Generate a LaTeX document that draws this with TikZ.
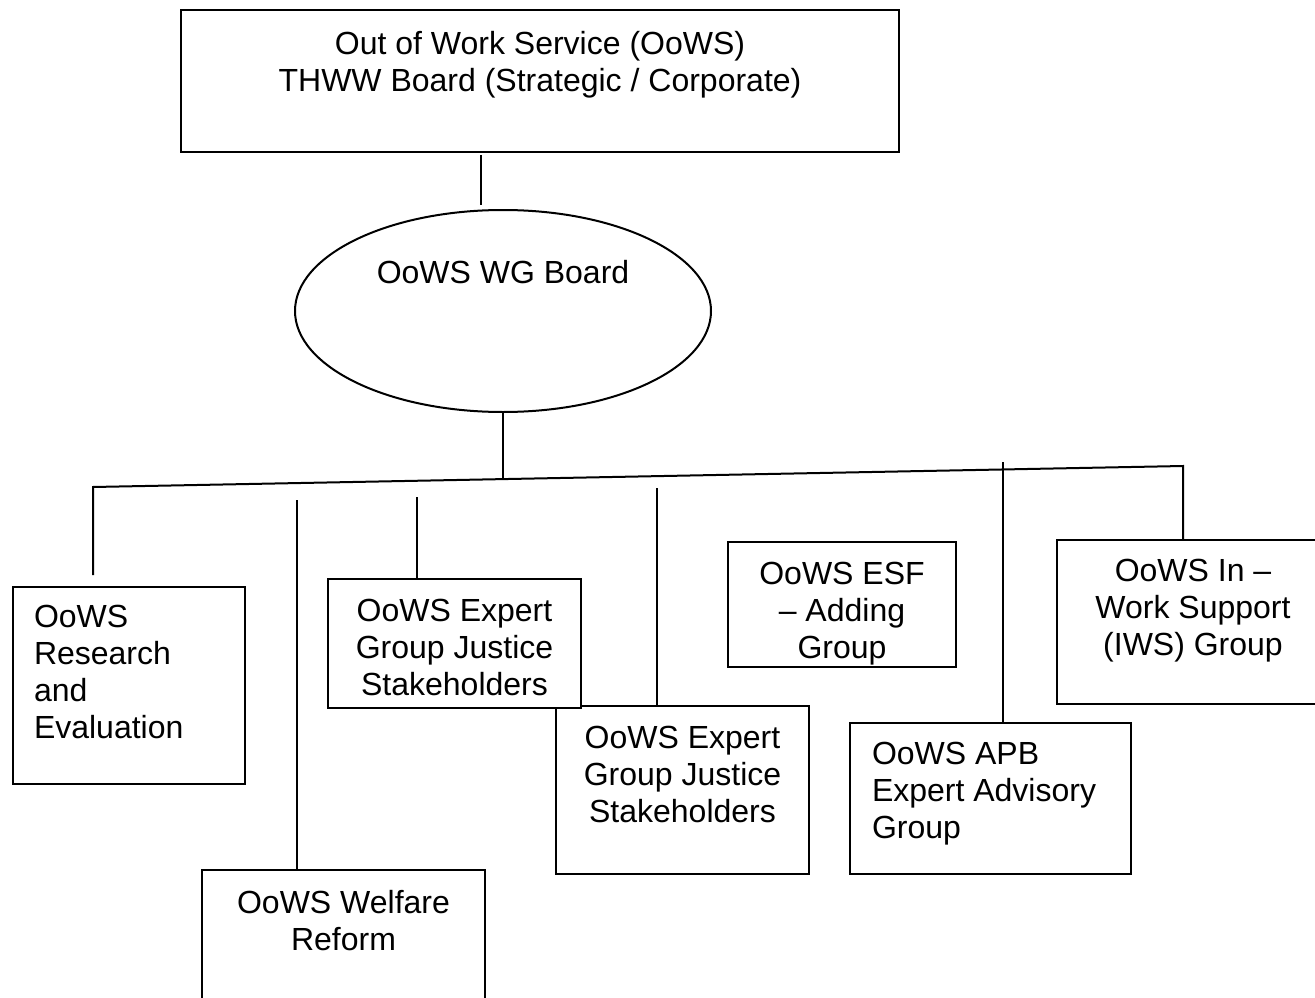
\documentclass[tikz,border=0pt]{standalone}
\usepackage{fontspec}
\setmainfont{Liberation Sans}
\usepackage{tikz}
\usetikzlibrary{shapes.geometric}
\tikzstyle{block} = [draw, fill=white, rectangle, line width=2pt,
    inner sep=0pt, anchor=north west]
\tikzstyle{oval} = [draw, ellipse, line width=2pt,
    minimum width=416pt, minimum height=202pt, inner sep=0pt]
\tikzstyle{link} = [line width=2pt]
\newcommand{\boxfont}{\fontsize{32}{37}\selectfont}
% text set from the top of a box: width, height, alignment, first baseline, lines
\newcommand{\inbox}[5]{\parbox[c][#2][t]{#1}{#3\rule{0pt}{#4}#5}}

\begin{document}
\begin{tikzpicture}[x=1pt, y=-1pt, font=\boxfont]
\useasboundingbox (0,0) rectangle (1315,998);

            % Boards
            \node (board) [block] at (180,9)
                {\inbox{718pt}{142pt}{\centering}{45pt}{Out of Work Service (OoWS)\\THWW Board (Strategic / Corporate)}};
            \node (wg) [oval] at (503,311) {};
            \node (wgtext) [anchor=base] at (503,283) {OoWS WG Board};

            % Groups
            \node (res) [block] at (12,586)
                {\inbox{232pt}{197pt}{\raggedright\leftskip=21pt\relax}{40pt}{OoWS\\Research\\and\\Evaluation}};
            \node (wel) [block] at (201,869)
                {\inbox{283pt}{150pt}{\centering}{43pt}{OoWS Welfare\\Reform}};
            \node (expb) [block] at (555,705)
                {\inbox{253pt}{168pt}{\centering}{42pt}{OoWS Expert\\Group Justice\\Stakeholders}};
            \node (expa) [block] at (327,578)
                {\inbox{253pt}{129pt}{\centering}{42pt}{OoWS Expert\\Group Justice\\Stakeholders}};
            \node (esf) [block] at (727,541)
                {\inbox{228pt}{125pt}{\centering}{42pt}{OoWS ESF\\– Adding\\Group}};
            \node (apb) [block] at (849,722)
                {\inbox{281pt}{151pt}{\raggedright\leftskip=22pt\relax}{41pt}{OoWS APB\\Expert Advisory\\Group}};
            \node (iws) [block] at (1056,539)
                {\inbox{272pt}{164pt}{\centering}{41pt}{OoWS In –\\Work Support\\(IWS) Group}};

            % Line ends
            \coordinate (boardlow) at (481,155);
            \coordinate (wgtop) at (481,205);
            \coordinate (busL) at (93,487);
            \coordinate (busM) at (503,480);
            \coordinate (busR) at (1183,466);
            \coordinate (dropres) at (93,575);
            \coordinate (topwel) at (297,500);
            \coordinate (topexpa) at (417,497);
            \coordinate (topexpb) at (657,488);
            \coordinate (topapb) at (1003,462);

            % Lines
            \draw [link] (boardlow) -- (wgtop);
            \draw [link] (wg.south) -- (busM);
            \draw [link] (dropres) -- (busL) -- (busR) -- (busR |- iws.north);
            \draw [link] (topwel) -- (topwel |- wel.north);
            \draw [link] (topexpa) -- (topexpa |- expa.north);
            \draw [link] (topexpb) -- (topexpb |- expb.north);
            \draw [link] (topapb) -- (topapb |- apb.north);

\end{tikzpicture}
\end{document}
